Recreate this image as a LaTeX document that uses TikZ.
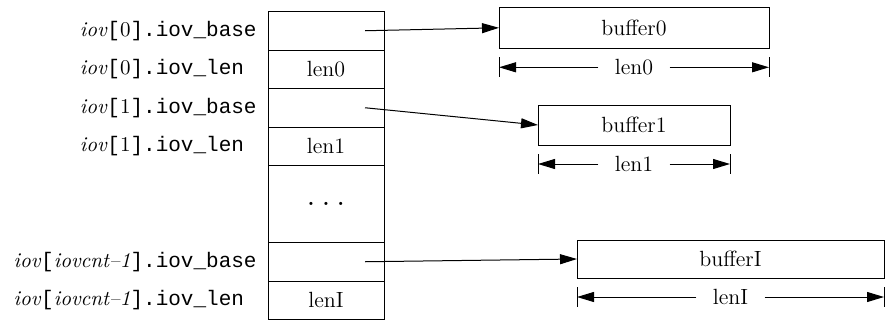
\documentclass[tikz,border=0pt]{standalone}
\usepackage{fontspec}
\setmonofont{Liberation Mono}
\usetikzlibrary{arrows.meta, positioning}

\tikzset{
  cell/.style={draw, line width=0.5pt, minimum width=58pt, minimum height=19.25pt,
    inner sep=0pt, outer sep=0pt},
  buf/.style={draw, line width=0.5pt, inner sep=0pt, outer sep=0pt},
  fld/.style={inner sep=0pt, font=\fontsize{10.5}{12}\selectfont},
  ptr/.style={-{Triangle[length=8.5pt, width=5pt]}, line width=0.5pt},
  dimtext/.style={inner ysep=0pt, inner xsep=8pt}
}
\newcommand{\fieldname}[2]{\textit{iov}\texttt{[}#1\texttt{].iov\_#2}}

\begin{document}
\begin{tikzpicture}[x=0.5pt, y=-0.5pt, font=\fontsize{11}{13}\selectfont]
  \useasboundingbox (0,0) rectangle (888,321);
  % the iovec array, one cell per field
  \node[cell] (c0) at (326,30.75) {};
  \node[cell] (c1) at (326,69.25) {len0};
  \node[cell] (c2) at (326,107.75) {};
  \node[cell] (c3) at (326,146.25) {len1};
  \node[cell, minimum height=38.5pt] (c4) at (326,204) {\textbf{.}\hspace{4pt}\textbf{.}\hspace{4pt}\textbf{.}};
  \node[cell] (c5) at (326,261.75) {};
  \node[cell] (c6) at (326,300.25) {lenI};
  % field names on the left, len lines start under base lines
  \node[fld, left=5.5pt of c0] (f0) {\fieldname{0}{base}};
  \node[fld, anchor=west] (f1) at (f0.west |- c1) {\fieldname{0}{len}};
  \node[fld, left=5.5pt of c2] (f2) {\fieldname{1}{base}};
  \node[fld, anchor=west] (f3) at (f2.west |- c3) {\fieldname{1}{len}};
  \node[fld, left=5.5pt of c5] (f5) {\fieldname{\textit{iovcnt--1}}{base}};
  \node[fld, anchor=west] (f6) at (f5.west |- c6) {\fieldname{\textit{iovcnt--1}}{len}};
  % the buffers
  \node[buf, minimum width=135pt, minimum height=20.5pt] (buf0) at (634,27.8) {buffer0};
  \node[buf, minimum width=96pt, minimum height=20pt] (buf1) at (634,125) {buffer1};
  \node[buf, minimum width=153.5pt, minimum height=19pt] (bufI) at (730.5,259) {bufferI};
  % base pointers
  \draw[ptr] ([xshift=19.5pt]c0.center) -- (buf0.west);
  \draw[ptr] ([xshift=19.5pt]c2.center) -- (buf1.west);
  \draw[ptr] ([xshift=19.5pt]c5.center) -- (bufI.west);
  % length marks under each buffer
  \foreach \b/\t in {0/len0, 1/len1, I/lenI}{
    \coordinate (dl\b) at ([yshift=-9.5pt]buf\b.south west);
    \coordinate (dr\b) at ([yshift=-9.5pt]buf\b.south east);
    \node[dimtext] (dt\b) at ([yshift=-9.5pt]buf\b.south) {\t};
    \draw[ptr] (dt\b) -- (dl\b);
    \draw[ptr] (dt\b) -- (dr\b);
    \draw[line width=0.5pt] ([yshift=5pt]dl\b) -- ([yshift=-5pt]dl\b);
    \draw[line width=0.5pt] ([yshift=5pt]dr\b) -- ([yshift=-5pt]dr\b);
  }
\end{tikzpicture}
\end{document}
